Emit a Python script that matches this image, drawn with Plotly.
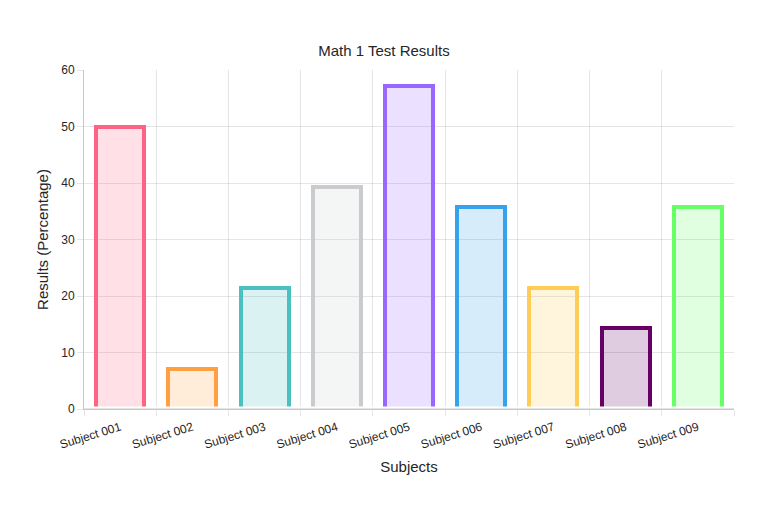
import plotly.graph_objects as go

# ── データ ────────────────────────────────────────────
subjects = ['Subject 001', 'Subject 002', 'Subject 003', 'Subject 004', 'Subject 005',
            'Subject 006', 'Subject 007', 'Subject 008', 'Subject 009']
results = [50, 7.14, 21.43, 39.29, 57.14, 35.71, 21.43, 14.29, 35.71]
border_rgb = ['255,99,132', '255,159,64', '75,192,192', '201,203,207', '153,102,255',
              '54,162,235', '255,205,86', '102,0,102', '102,255,102']

font_family = 'Liberation Sans, Arial, sans-serif'
text_color = '#262626'
n = len(subjects)

# ページ余白(8px)分を差し引いたサイズ
W, H = 760, 504

fig = go.Figure()

fig.add_trace(go.Bar(
    x=subjects,
    y=results,
    width=0.665,
    marker=dict(
        color=[f'rgba({c},0.2)' for c in border_rgb],
        line=dict(color=[f'rgb({c})' for c in border_rgb], width=4),
    ),
    showlegend=False,
    hoverinfo='x+y',
))

# カテゴリ境界のグリッド用ダミー軸
fig.add_trace(go.Scatter(x=[-0.5, n - 0.5], y=[0, 0], xaxis='x2',
                         mode='markers', marker=dict(opacity=0), showlegend=False,
                         hoverinfo='skip'))

# 棒の下辺の枠線を隠す（Chart.js の borderSkipped 風）
fig.add_shape(type='rect', xref='paper', yref='y', x0=0.002, x1=1,
              ysizemode='pixel', yanchor=0, y0=0, y1=2.5,
              fillcolor='white', line_width=0, layer='above')
fig.add_shape(type='line', xref='paper', yref='y', x0=0, x1=1, y0=0, y1=0,
              line=dict(color='#c8c8c8', width=1), layer='above')

fig.update_layout(
    width=W, height=H,
    margin=dict(l=76, r=34, t=62, b=103, autoexpand=False),
    plot_bgcolor='white', paper_bgcolor='white',
    font=dict(family=font_family, color=text_color, size=12),
    title=dict(text='Math 1 Test Results', x=(384 - 8) / W, xref='container',
               y=1 - 43 / H, yref='container', yanchor='middle', xanchor='center',
               font=dict(size=15, color=text_color)),
    xaxis=dict(
        type='category', automargin=False,
        showgrid=False,
        showline=True, linecolor='#c8c8c8', linewidth=1,
        ticks='', tickangle=-17, ticklabelstandoff=6,
        tickfont=dict(size=12, color=text_color),
        title=dict(text='Subjects', font=dict(size=15, color=text_color), standoff=10),
        range=[-0.5, n - 0.5],
    ),
    xaxis2=dict(
        overlaying='x', side='bottom', automargin=False,
        range=[-0.5, n - 0.5],
        tick0=-0.5, dtick=1,
        showgrid=True, gridcolor='rgba(0,0,0,0.1)', gridwidth=1,
        ticks='outside', ticklen=6, tickcolor='rgba(0,0,0,0.1)',
        showticklabels=False, zeroline=False, showline=False,
    ),
    yaxis=dict(
        range=[0, 60], dtick=10, automargin=False,
        showgrid=True, gridcolor='rgba(0,0,0,0.1)', gridwidth=1,
        zeroline=False,
        showline=True, linecolor='#c8c8c8', linewidth=1,
        ticks='outside', ticklen=6, tickcolor='rgba(0,0,0,0.1)',
        tickfont=dict(size=12, color=text_color),
        title=dict(text='Results (Percentage)', font=dict(size=15, color=text_color), standoff=8),
    ),
    bargap=0,
)

fig.write_html('out.html')
